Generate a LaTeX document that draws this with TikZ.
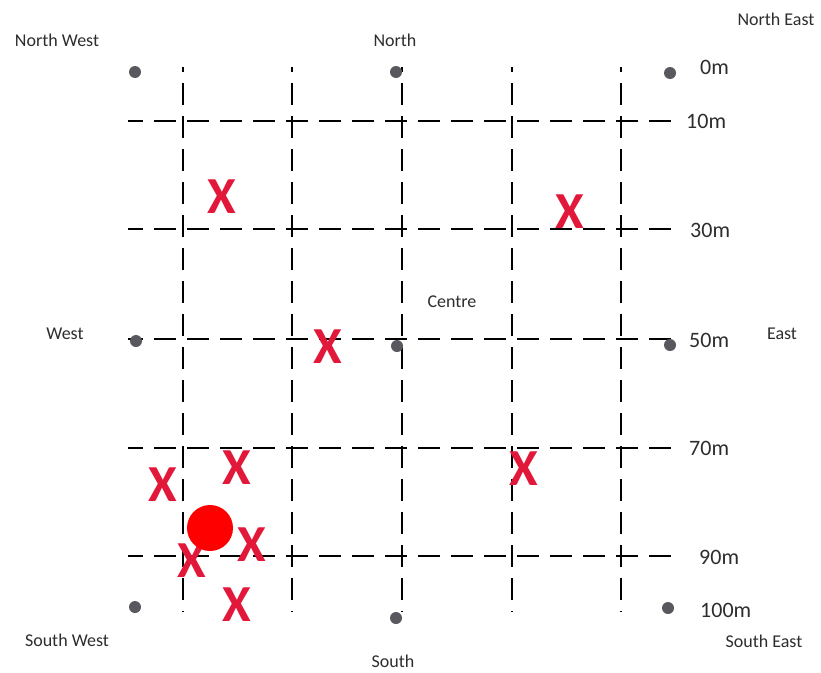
\documentclass[tikz,border=0pt]{standalone}
\usepackage{fontspec}
\setmainfont{Carlito}
\usepackage{xcolor}
\usepackage{tikz}
\usetikzlibrary{positioning}

\definecolor{markred}{RGB}{226,24,58}
\definecolor{stakegrey}{RGB}{88,88,94}
\definecolor{labelgrey}{RGB}{45,45,45}

\tikzset{
  gridline/.style={line width=2.6pt, dash pattern=on 22pt off 11pt},
  stake/.style={circle, fill=stakegrey, inner sep=0pt, minimum size=12pt},
  compass/.style={font=\fontsize{18}{20}\selectfont, text=labelgrey, inner sep=0pt},
  depth/.style={font=\fontsize{22}{24}\selectfont, text=labelgrey, anchor=west, inner sep=0pt},
  findmark/.style={font=\fontsize{52}{54}\selectfont\bfseries, text=markred, inner sep=0pt},
}

\begin{document}
\begin{tikzpicture}[x=1pt, y=-1pt]
				\useasboundingbox (0,0) rectangle (821,672);
				% Grid lines:
				\foreach \gx in {183,292,402,512,621}
				  \draw[gridline, dash phase=17pt] (\gx,67) -- (\gx,612);
				\foreach \gy in {121,229,339,448,556}
				  \draw[gridline, dash phase=7pt] (128,\gy) -- (673,\gy);
				% Stakes:
				\node[stake] (nw) at (135,72){};
				\node[stake] (n) at (396,72){};
				\node[stake] (ne) at (670,73){};
				\node[stake] (w) at (136,341){};
				\node[stake] (c) at (397,346){};
				\node[stake] (e) at (670,345){};
				\node[stake] (sw) at (135,607){};
				\node[stake] (s) at (396,618){};
				\node[stake] (se) at (668,608){};
				% Compass labels:
				\node[compass] (lnw) at (57,40){North West};
				\node[compass] (ln) at (395,40){North};
				\node[compass] (lne) at (776,19){North East};
				\node[compass] (lw) at (65,334){West};
				\node[compass] (le) at (782,334){East};
				\node[compass] (lc) at (452,302){Centre};
				\node[compass] (lsw) at (67,640){South West};
				\node[compass] (ls) at (393,661){South};
				\node[compass] (lse) at (764,641){South East};
				% Depth labels:
				\node[depth] (d0) at (700,67){0m};
				\node[depth] (d10) at (686,121){10m};
				\node[depth] (d30) at (690,230){30m};
				\node[depth] (d50) at (689,340){50m};
				\node[depth] (d70) at (689,448){70m};
				\node[depth] (d90) at (699,557){90m};
				\node[depth] (d100) at (700,610){100m};
				% Finds:
				\node[findmark] (x1) at (222,197){X};
				\node[findmark] (x2) at (570,212){X};
				\node[findmark] (x3) at (328,347){X};
				\node[findmark] (x4) at (237,468){X};
				\node[findmark] (x5) at (163,485){X};
				\node[findmark] (x6) at (524,469){X};
				\node[findmark] (x7) at (252,545){X};
				\node[findmark] (x8) at (192,561){X};
				\node[findmark] (x9) at (237,605){X};
				\node[circle, fill=red, inner sep=0pt, minimum size=46pt] (hit) at (210,528){};
			\end{tikzpicture}
\end{document}
